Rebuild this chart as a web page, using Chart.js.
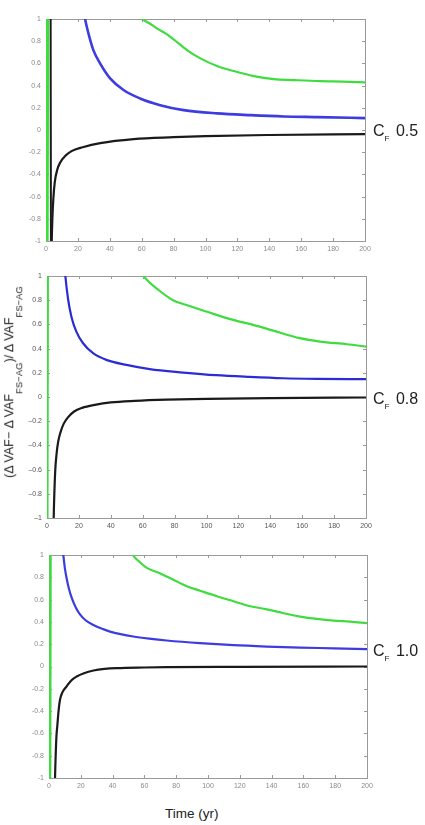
<!DOCTYPE html>
<html>
<head>
<meta charset="utf-8">
<script src="https://cdn.jsdelivr.net/npm/chart.js@4/dist/chart.umd.min.js"></script>
<style>
    body { margin: 0; background: #fff; width: 425px; height: 825px; position: relative; overflow: hidden;
           font-family: "Liberation Sans", Arial, sans-serif; }
    canvas { position: absolute; left: 0; }
    .cf { position: absolute; left: 373px; font-size: 16px; line-height: 16px; color: #222; white-space: nowrap; }
    .cf .s { position: relative; top: 5px; font-size: 8px; margin-right: 2px; }
    #ylab { position: absolute; left: 10px; top: 382px; font-size: 12.5px; line-height: 12.5px; color: #222;
            white-space: nowrap; transform: translate(-50%, -50%) rotate(-90deg); }
    #ylab .s { position: relative; top: 9px; font-size: 9.5px; }
    #xlab { position: absolute; left: 165px; top: 807px; font-size: 13.5px; line-height: 13.5px; color: #222; }
</style>
</head>
<body>
<canvas id="cf05" width="425" height="262" style="top:0px"></canvas>
<canvas id="cf08" width="425" height="278" style="top:262px"></canvas>
<canvas id="cf10" width="425" height="260" style="top:540px"></canvas>
<div class="cf" style="top:123px">C<span class="s">F</span> 0.5</div>
<div class="cf" style="top:391px">C<span class="s">F</span> 0.8</div>
<div class="cf" style="top:643px">C<span class="s">F</span> 1.0</div>
<div id="ylab">(&Delta; VAF&minus; &Delta; VAF<span class="s">FS&minus;AG</span>)/ &Delta; VAF<span class="s">FS&minus;AG</span></div>
<div id="xlab">Time (yr)</div>
<script>
// --- C_F 0.5 ---
var t05GreenJump = [0.4, 0.8];
var v05GreenJump = [-1.1, 1.1];
var t05Green = [55, 60, 65, 69.5, 75, 80, 88.4, 96.8, 107.2, 117.7, 130.3, 142.8, 155.4, 172, 186, 200];
var v05Green = [1.04, 1.0, 0.96, 0.916, 0.87, 0.817, 0.72, 0.645, 0.576, 0.531, 0.486, 0.459, 0.45, 0.44, 0.436, 0.429];
var t05Blue = [23.5, 24.5, 26.6, 29.7, 33.9, 40.2, 48.6, 59, 71.6, 86.3, 107.2, 128.2, 149, 170, 200];
var v05Blue = [1.09, 1.0, 0.871, 0.72, 0.6, 0.465, 0.36, 0.284, 0.224, 0.179, 0.15, 0.134, 0.122, 0.116, 0.107];
var t05BlackJump = [2.9, 3.1];
var v05BlackJump = [1.1, -1.1];
var t05Black = [3.3, 3.6, 4.0, 4.6, 5.5, 7, 9, 12, 16, 23, 34, 55, 80, 100, 140, 200];
var v05Black = [-1.3, -1.0, -0.8, -0.62, -0.47, -0.36, -0.29, -0.235, -0.19, -0.155, -0.118, -0.082, -0.065, -0.055, -0.045, -0.037];

// --- C_F 0.8 ---
var t08GreenJump = [0.2, 0.5];
var v08GreenJump = [-1.1, 1.1];
var t08Green = [56, 60.3, 64, 68.6, 79, 87.4, 100, 116.7, 129.3, 141.8, 158.6, 171, 188, 200];
var v08Green = [1.06, 1.0, 0.95, 0.898, 0.8, 0.76, 0.706, 0.637, 0.596, 0.549, 0.486, 0.458, 0.436, 0.417];
var t08Blue = [11, 11.5, 13.2, 15.3, 18.4, 22.6, 28.9, 37.2, 49.8, 64.4, 85.4, 106, 127, 148, 169, 200];
var v08Blue = [1.08, 1.0, 0.81, 0.664, 0.54, 0.444, 0.362, 0.307, 0.265, 0.23, 0.202, 0.18, 0.166, 0.155, 0.15, 0.147];
var t08Black = [3.9, 4.2, 4.6, 5.2, 6, 7, 8.5, 10.5, 13, 17, 22, 30, 40, 55, 75, 100, 140, 200];
var v08Black = [-1.3, -1.0, -0.8, -0.6, -0.47, -0.37, -0.29, -0.22, -0.17, -0.12, -0.09, -0.065, -0.045, -0.032, -0.022, -0.015, -0.009, -0.004];

// --- C_F 1.0 ---
var t10GreenJump = [0.7, 1.0];
var v10GreenJump = [-1.1, 1.1];
var t10Green = [51, 52.7, 56, 61.5, 70, 78, 86.7, 95, 105.6, 116, 126.5, 137, 147.5, 158, 168.5, 179, 189.5, 200];
var v10Green = [1.05, 1.0, 0.95, 0.885, 0.835, 0.78, 0.72, 0.68, 0.63, 0.585, 0.54, 0.513, 0.478, 0.448, 0.427, 0.412, 0.403, 0.388];
var t10Blue = [8.5, 9, 10, 11.1, 12.5, 14.3, 17, 19.5, 23, 27.9, 33, 38.4, 45, 53, 63, 74, 95, 116, 137, 158, 179, 200];
var v10Blue = [1.06, 1.0, 0.88, 0.79, 0.7, 0.615, 0.525, 0.468, 0.415, 0.373, 0.34, 0.313, 0.29, 0.269, 0.25, 0.233, 0.209, 0.191, 0.179, 0.17, 0.163, 0.155];
var t10Black = [3.5, 3.8, 4.2, 4.7, 5.2, 6, 6.9, 8.5, 11, 14, 17.4, 22, 28, 35, 42.6, 60, 74, 120, 200];
var v10Black = [-1.3, -1.0, -0.8, -0.62, -0.537, -0.4, -0.3, -0.23, -0.18, -0.125, -0.09, -0.06, -0.036, -0.022, -0.015, -0.009, -0.006, -0.003, 0];

var greenColor = '#3fdc3f';
var blueColor = '#3c3ce0';
var blackColor = '#1a1a1a';

Chart.defaults.font.family = '"Liberation Sans", Arial, sans-serif';

function toPoints(xs, ys) {
    return xs.map(function(x, i) { return {x: x, y: ys[i]}; });
}

function series(xs, ys, color, width) {
    return {
        data: toPoints(xs, ys),
        borderColor: color,
        borderWidth: width || 2.2,
        pointRadius: 0,
        cubicInterpolationMode: 'monotone',
        clip: 0,
    };
}

function tickLabel(dash) {
    return function(v) {
        var r = Math.round(v * 10) / 10;
        if (r === 0) return '0';
        var s = Math.abs(r) === 1 ? '1' : Math.abs(r).toFixed(1);
        return r < 0 ? dash + s : s;
    };
}

// matlab style box with inward ticks on all four sides
var boxPlugin = {
    id: 'box',
    beforeDatasetsDraw: function(chart) {
        var a = chart.chartArea, ctx = chart.ctx;
        var xs = chart.scales.x, ys = chart.scales.y;
        var len = 3;
        ctx.save();
        ctx.strokeStyle = '#9a9a9a';
        ctx.lineWidth = 1;
        ctx.strokeRect(Math.round(a.left) + 0.5, Math.round(a.top) + 0.5,
                       Math.round(a.right - a.left), Math.round(a.bottom - a.top));
        ctx.beginPath();
        xs.ticks.forEach(function(t) {
            var px = Math.round(xs.getPixelForValue(t.value)) + 0.5;
            ctx.moveTo(px, a.bottom); ctx.lineTo(px, a.bottom - len);
            ctx.moveTo(px, a.top); ctx.lineTo(px, a.top + len);
        });
        ys.ticks.forEach(function(t) {
            var py = Math.round(ys.getPixelForValue(t.value)) + 0.5;
            ctx.moveTo(a.left, py); ctx.lineTo(a.left + len, py);
            ctx.moveTo(a.right, py); ctx.lineTo(a.right - len, py);
        });
        ctx.stroke();
        ctx.restore();
    }
};

function makePanel(id, datasets, box, labelColor, dash) {
    new Chart(document.getElementById(id), {
        type: 'line',
        data: {datasets: datasets},
        plugins: [boxPlugin],
        options: {
            responsive: false,
            animation: false,
            layout: {padding: {left: 0, top: box.top, right: box.right, bottom: 0}},
            plugins: {legend: {display: false}, tooltip: {enabled: false}},
            scales: {
                x: {
                    type: 'linear', min: 0, max: 200,
                    grid: {display: false, drawTicks: false},
                    border: {display: false},
                    ticks: {stepSize: 20, padding: 4, color: labelColor, font: {size: 7}, maxRotation: 0},
                    afterFit: function(scale) { scale.height = box.xHeight; },
                },
                y: {
                    type: 'linear', min: -1, max: 1,
                    grid: {display: false, drawTicks: false},
                    border: {display: false},
                    ticks: {stepSize: 0.2, padding: 5, color: labelColor, font: {size: 7}, callback: tickLabel(dash)},
                    afterFit: function(scale) { scale.width = box.yWidth; },
                },
            },
        },
    });
}

makePanel('cf05', [
    series(t05GreenJump, v05GreenJump, greenColor, 4),
    series(t05Green, v05Green, greenColor),
    series(t05Blue, v05Blue, blueColor, 2.6),
    series(t05BlackJump, v05BlackJump, blackColor, 2),
    series(t05Black, v05Black, blackColor),
], {top: 19, right: 60, yWidth: 46, xHeight: 21}, '#8a8a8a', '-');

makePanel('cf08', [
    series(t08GreenJump, v08GreenJump, greenColor, 2.4),
    series(t08Green, v08Green, greenColor),
    series(t08Blue, v08Blue, '#2c2cd4'),
    series(t08Black, v08Black, blackColor),
], {top: 14, right: 59, yWidth: 47, xHeight: 22}, '#555', '\u2013');

makePanel('cf10', [
    series(t10GreenJump, v10GreenJump, greenColor, 2.4),
    series(t10Green, v10Green, greenColor),
    series(t10Blue, v10Blue, blueColor),
    series(t10Black, v10Black, blackColor),
], {top: 15, right: 58, yWidth: 49, xHeight: 22}, '#8a8a8a', '-');
</script>
</body>
</html>
